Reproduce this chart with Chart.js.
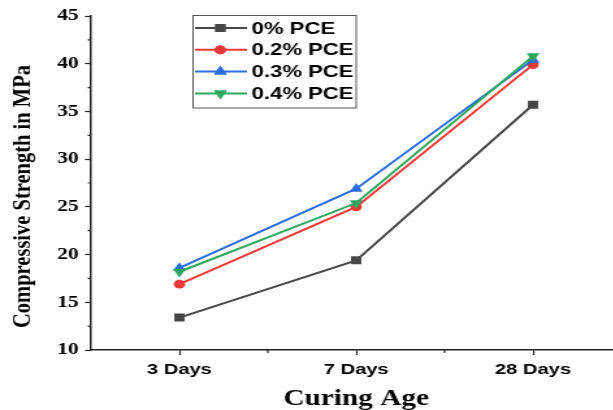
<!DOCTYPE html>
<html>
<head>
<meta charset="utf-8">
<script src="https://cdn.jsdelivr.net/npm/chart.js@4"></script>
<style>
html,body{margin:0;padding:0;background:#fff;overflow:hidden;width:613px;height:410px;}
#c{position:absolute;left:0;top:0;transform:scaleX(1.3);transform-origin:0 0;}
</style>
</head>
<body>
<canvas id="c" width="485" height="410"></canvas>
<script>
const categories = ['3 Days', '7 Days', '28 Days'];
const seriesNames = ['0% PCE', '0.2% PCE', '0.3% PCE', '0.4% PCE'];
const pce0 = [13.4, 19.4, 35.7];
const pce02 = [16.9, 25.0, 39.9];
const pce03 = [18.6, 26.9, 40.4];
const pce04 = [18.2, 25.4, 40.8];
const yTicks = [10, 15, 20, 25, 30, 35, 40, 45];
const xTitle = 'Curing Age';
const yTitle = 'Compressive Strength in MPa';

const colors = ['#474747', '#f03a3a', '#2b6ee0', '#2ea75e'];
const styles = [
  {pointStyle: 'rect', radius: 5.6, rotation: 0},
  {pointStyle: 'circle', radius: 4.4, rotation: 0},
  {pointStyle: 'triangle', radius: 5.8, rotation: 0},
  {pointStyle: 'triangle', radius: 5.8, rotation: 180}
];
const values = [pce0, pce02, pce03, pce04];

const datasets = values.map((v, i) => ({
  label: seriesNames[i],
  data: v,
  borderColor: colors[i],
  backgroundColor: colors[i],
  borderWidth: 2,
  pointStyle: styles[i].pointStyle,
  pointRadius: styles[i].radius,
  pointRotation: styles[i].rotation,
  pointBorderWidth: 0,
  pointHoverRadius: styles[i].radius,
  tension: 0,
  order: values.length - 1 - i
}));

const minorTicks = {
  id: 'minorTicks',
  afterDraw(chart) {
    const ctx = chart.ctx;
    const y = chart.scales.y, x = chart.scales.x;
    ctx.save();
    ctx.strokeStyle = '#222';
    ctx.lineWidth = 1.2;
    ctx.beginPath();
    for (let i = 0; i < yTicks.length - 1; i++) {
      const v = (yTicks[i] + yTicks[i + 1]) / 2;
      const py = y.getPixelForValue(v);
      ctx.moveTo(chart.chartArea.left, py);
      ctx.lineTo(chart.chartArea.left - 2.5, py);
    }
    for (let i = 0; i < categories.length - 1; i++) {
      const px = (x.getPixelForValue(i) + x.getPixelForValue(i + 1)) / 2;
      ctx.moveTo(px, chart.chartArea.bottom);
      ctx.lineTo(px, chart.chartArea.bottom + 3);
    }
    ctx.stroke();
    ctx.restore();
  }
};

const yAxisTitle = {
  id: 'yAxisTitle',
  afterDraw(chart) {
    const ctx = chart.ctx;
    ctx.save();
    ctx.translate(18.5, 196.5);
    ctx.rotate(-Math.PI / 2);
    ctx.scale(1, 1 / 1.1);
    ctx.fillStyle = '#000';
    ctx.font = 'bold 20.5px "Liberation Serif", "Times New Roman", serif';
    ctx.textAlign = 'center';
    ctx.textBaseline = 'middle';
    ctx.fillText(yTitle, 0, 0);
    ctx.restore();
  }
};

const boxLegend = {
  id: 'boxLegend',
  afterDraw(chart) {
    const ctx = chart.ctx;
    ctx.save();
    ctx.strokeStyle = '#555';
    ctx.lineWidth = 1;
    ctx.strokeRect(148.5, 15.5, 125.5, 92.5);
    chart.data.datasets.forEach((ds, i) => {
      const yy = 28 + i * 21.8;
      ctx.strokeStyle = ds.borderColor;
      ctx.lineWidth = 2;
      ctx.beginPath();
      ctx.moveTo(150, yy);
      ctx.lineTo(190, yy);
      ctx.stroke();
      ctx.fillStyle = ds.backgroundColor;
      Chart.helpers.drawPoint(ctx, {pointStyle: ds.pointStyle, radius: ds.pointRadius, rotation: ds.pointRotation, borderWidth: 0}, 169.5, yy);
      ctx.fill();
      ctx.fillStyle = '#000';
      ctx.font = 'bold 17px "Liberation Sans", Arial, sans-serif';
      ctx.textBaseline = 'middle';
      ctx.textAlign = 'left';
      ctx.fillText(ds.label, 193.5, yy + 1);
    });
    ctx.restore();
  }
};

new Chart(document.getElementById('c'), {
  type: 'line',
  data: {labels: categories, datasets: datasets},
  plugins: [minorTicks, yAxisTitle, boxLegend],
  options: {
    responsive: false,
    animation: false,
    devicePixelRatio: 1,
    layout: {padding: {top: 16, right: 7, bottom: 0, left: 0}},
    plugins: {legend: {display: false}, tooltip: {enabled: false}},
    scales: {
      x: {
        offset: true,
        grid: {display: true, drawOnChartArea: false, drawTicks: true, tickLength: 5, tickColor: '#222', tickWidth: 1.2},
        border: {display: true, color: '#222', width: 1.5},
        ticks: {color: '#000', padding: 5, font: {family: '"Liberation Sans", Arial, sans-serif', size: 15.5, weight: 'bold'}},
        title: {display: true, text: xTitle, color: '#000', padding: {top: 0, bottom: 0}, font: {family: '"Liberation Serif", "Times New Roman", serif', size: 22.5, weight: 'bold', lineHeight: 1}},
        afterFit(scale) { scale.height = 60; }
      },
      y: {
        min: 10, max: 45,
        afterBuildTicks(scale) { scale.ticks = yTicks.map(v => ({value: v})); },
        grid: {display: true, drawOnChartArea: false, drawTicks: true, tickLength: 4.6, tickColor: '#222', tickWidth: 1.2},
        border: {display: true, color: '#222', width: 1.5},
        ticks: {color: '#000', padding: 5, font: {family: '"Liberation Serif", "Times New Roman", serif', size: 16.5, weight: 'bold'}},
        title: {display: false},
        afterFit(scale) { scale.width = 70; }
      }
    }
  }
});
</script>
</body>
</html>
